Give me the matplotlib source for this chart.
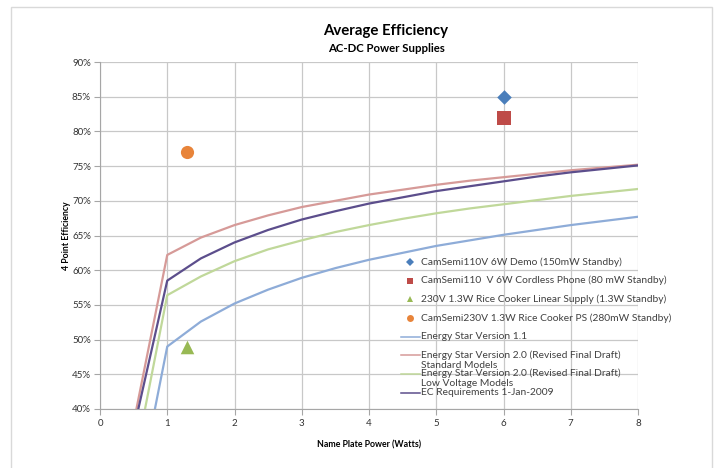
import numpy as np
import matplotlib
matplotlib.use("Agg")
import matplotlib.pyplot as plt
from matplotlib.patches import Rectangle
from matplotlib.lines import Line2D

plt.rcParams['font.family'] = ['Lato', 'DejaVu Sans']

# Curve data (name plate power in W, efficiency in %)
power = [0.5, 1, 1.5, 2, 2.5, 3, 3.5, 4, 4.5, 5, 5.5, 6, 6.5, 7, 7.5, 8]
es11 = [24.5, 49.0, 52.6, 55.2, 57.2, 58.9, 60.3, 61.5, 62.5, 63.5, 64.3, 65.1, 65.8, 66.5, 67.1, 67.7]
es20_std = [38.0, 62.2, 64.7, 66.5, 67.9, 69.1, 70.0, 70.9, 71.6, 72.3, 72.9, 73.4, 73.9, 74.4, 74.8, 75.2]
es20_lv = [31.6, 56.4, 59.1, 61.3, 63.0, 64.3, 65.5, 66.5, 67.4, 68.2, 68.9, 69.5, 70.1, 70.7, 71.2, 71.7]
ec2009 = [37.0, 58.5, 61.7, 64.0, 65.8, 67.3, 68.5, 69.6, 70.5, 71.4, 72.1, 72.8, 73.5, 74.1, 74.6, 75.1]

# Measured devices
dev_labels = ['CamSemi110V 6W Demo (150mW Standby)',
              'CamSemi110  V 6W Cordless Phone (80 mW Standby)',
              '230V 1.3W Rice Cooker Linear Supply (1.3W Standby)',
              'CamSemi230V 1.3W Rice Cooker PS (280mW Standby)']
dev_x = [6, 6, 1.3, 1.3]
dev_y = [85, 82, 49, 77]

curve_labels = ['Energy Star Version 1.1',
                'Energy Star Version 2.0 (Revised Final Draft)\nStandard Models',
                'Energy Star Version 2.0 (Revised Final Draft)\nLow Voltage Models',
                'EC Requirements 1-Jan-2009']

x_ticks = [0, 1, 2, 3, 4, 5, 6, 7, 8]
y_ticks = [40, 45, 50, 55, 60, 65, 70, 75, 80, 85, 90]

W, H = 717, 468
fig = plt.figure(figsize=(W / 100, H / 100), dpi=100)
fig.patches.append(Rectangle((11 / W, -0.01), 701 / W, 1 - 7 / H + 0.01,
                             transform=fig.transFigure, fill=False,
                             edgecolor='#d9d9d9', linewidth=1.0))
ax = fig.add_axes([100 / W, 1 - 409 / H, 538 / W, 347 / H])

markers = ['D', 's', '^', 'o']
mcolors = ['#4a7ebb', '#be4b48', '#98b954', '#e8843a']
msizes = [55, 90, 95, 90]
for x, y, m, c, s in zip(dev_x, dev_y, markers, mcolors, msizes):
    ax.scatter([x], [y], marker=m, color=c, s=s, zorder=5, linewidths=0)

lcolors = ['#8eacd8', '#d69a98', '#c0d89a', '#5c4e8c']
for ys, c in zip([es11, es20_std, es20_lv, ec2009], lcolors):
    ax.plot(power, ys, color=c, lw=1.6, zorder=4)

ax.set_xlim(0, 8)
ax.set_ylim(40, 90)
ax.set_xticks(x_ticks)
ax.set_yticks(y_ticks)
ax.set_yticklabels([f'{v}%' for v in y_ticks])
ax.grid(True, color='#c8c8c8', lw=0.9)
ax.set_axisbelow(True)
for s in ['top', 'right']:
    ax.spines[s].set_visible(False)
for s in ['left', 'bottom']:
    ax.spines[s].set_color('#a6a6a6')
ax.tick_params(axis='both', labelsize=7, colors='#a6a6a6', labelcolor='#333333',
               length=4, direction='out')
ax.tick_params(axis='x', pad=3.5)
ax.tick_params(axis='y', pad=2.5)

ax.set_xlabel('Name Plate Power (Watts)', fontsize=6.3, fontweight='bold', labelpad=9)
ax.set_ylabel('4 Point Efficiency', fontsize=6.3, fontweight='bold', labelpad=1)

fig.text(386 / W, 1 - 31 / H, 'Average Efficiency', ha='center', va='center',
         fontsize=10.8, fontweight='bold')
fig.text(386 / W, 1 - 48 / H, 'AC-DC Power Supplies', ha='center', va='center',
         fontsize=8.2, fontweight='bold')

# Manual legend (Excel style: handle aligned with first text line)
def fx(px):
    return px / W

def fy(py):
    return 1 - py / H

entry_y = [262, 280.5, 299, 318, 336.5, 355, 373.5, 392.5]
leg_fs = 7.4
txt_col = '#404040'
for i, (lab, m, c) in enumerate(zip(dev_labels, markers, mcolors)):
    y = entry_y[i]
    fig.add_artist(Line2D([fx(410)], [fy(y)], marker=m, color=c, markersize=5 if m != 'D' else 4.5,
                          markeredgewidth=0, linestyle='none', transform=fig.transFigure))
    fig.text(fx(421), fy(y), lab, ha='left', va='center', fontsize=leg_fs, color=txt_col)
for j, (lab, c) in enumerate(zip(curve_labels, lcolors)):
    y = entry_y[4 + j]
    fig.add_artist(Line2D([fx(401), fx(419.5)], [fy(y), fy(y)], color=c, lw=1.1,
                          transform=fig.transFigure))
    for k, line in enumerate(lab.split('\n')):
        fig.text(fx(421), fy(y + 10.3 * k), line, ha='left', va='center',
                 fontsize=leg_fs, color=txt_col)

fig.savefig('out.png', dpi=100)
